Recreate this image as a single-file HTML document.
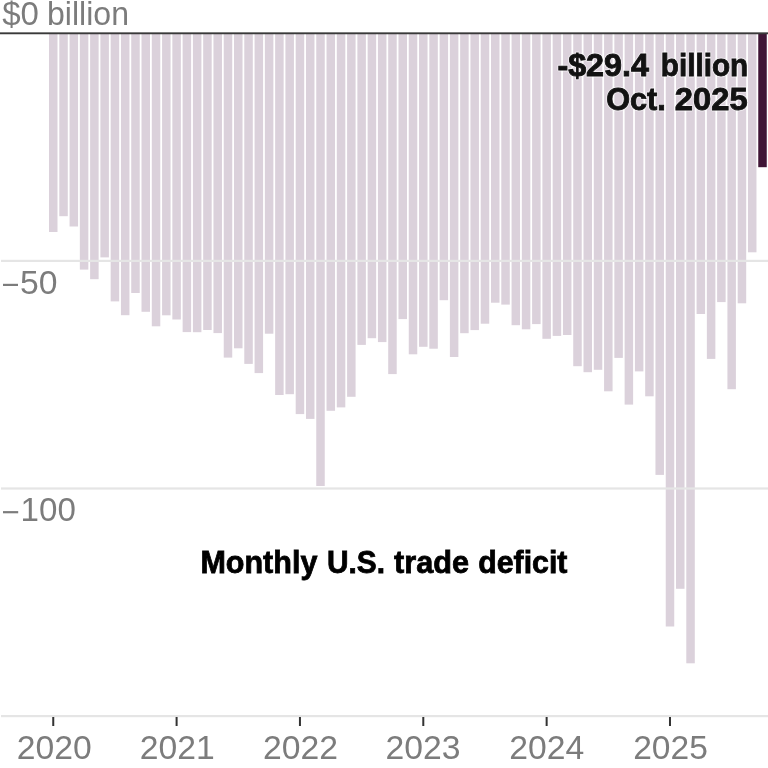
<!DOCTYPE html>
<html><head><meta charset="utf-8">
<style>
html,body{margin:0;padding:0;background:#fff;width:768px;height:768px;overflow:hidden}
svg{display:block;will-change:transform}
text{font-family:"Liberation Sans",sans-serif}
.ax{fill:#7c7c7c;font-size:33px}
.an{fill:#121212;font-size:32px;font-weight:bold;stroke:#121212;stroke-width:0.9px}
.mo{fill:#000;font-size:31.5px;font-weight:bold;stroke:#000;stroke-width:0.8px}
.halo{fill:none;stroke:#fff;stroke-width:2.8px;stroke-opacity:0.55;stroke-linejoin:round}
</style></head><body>
<svg width="768" height="768" viewBox="0 0 768 768">
<g id="bars">
<rect x="49.00" y="33.0" width="8.5" height="199.0" fill="#dbd1db"/>
<rect x="59.28" y="33.0" width="8.5" height="183.2" fill="#dbd1db"/>
<rect x="69.56" y="33.0" width="8.5" height="193.5" fill="#dbd1db"/>
<rect x="79.84" y="33.0" width="8.5" height="236.6" fill="#dbd1db"/>
<rect x="90.12" y="33.0" width="8.5" height="246.2" fill="#dbd1db"/>
<rect x="100.39" y="33.0" width="8.5" height="224.4" fill="#dbd1db"/>
<rect x="110.67" y="33.0" width="8.5" height="268.4" fill="#dbd1db"/>
<rect x="120.95" y="33.0" width="8.5" height="282.2" fill="#dbd1db"/>
<rect x="131.23" y="33.0" width="8.5" height="260.0" fill="#dbd1db"/>
<rect x="141.51" y="33.0" width="8.5" height="278.8" fill="#dbd1db"/>
<rect x="151.79" y="33.0" width="8.5" height="293.3" fill="#dbd1db"/>
<rect x="162.07" y="33.0" width="8.5" height="282.3" fill="#dbd1db"/>
<rect x="172.35" y="33.0" width="8.5" height="286.5" fill="#dbd1db"/>
<rect x="182.63" y="33.0" width="8.5" height="299.1" fill="#dbd1db"/>
<rect x="192.91" y="33.0" width="8.5" height="299.2" fill="#dbd1db"/>
<rect x="203.19" y="33.0" width="8.5" height="297.0" fill="#dbd1db"/>
<rect x="213.46" y="33.0" width="8.5" height="300.1" fill="#dbd1db"/>
<rect x="223.74" y="33.0" width="8.5" height="324.6" fill="#dbd1db"/>
<rect x="234.02" y="33.0" width="8.5" height="315.3" fill="#dbd1db"/>
<rect x="244.30" y="33.0" width="8.5" height="330.9" fill="#dbd1db"/>
<rect x="254.58" y="33.0" width="8.5" height="340.1" fill="#dbd1db"/>
<rect x="264.86" y="33.0" width="8.5" height="300.7" fill="#dbd1db"/>
<rect x="275.14" y="33.0" width="8.5" height="362.0" fill="#dbd1db"/>
<rect x="285.42" y="33.0" width="8.5" height="361.2" fill="#dbd1db"/>
<rect x="295.70" y="33.0" width="8.5" height="381.1" fill="#dbd1db"/>
<rect x="305.98" y="33.0" width="8.5" height="385.9" fill="#dbd1db"/>
<rect x="316.25" y="33.0" width="8.5" height="453.0" fill="#dbd1db"/>
<rect x="326.53" y="33.0" width="8.5" height="377.8" fill="#dbd1db"/>
<rect x="336.81" y="33.0" width="8.5" height="374.4" fill="#dbd1db"/>
<rect x="347.09" y="33.0" width="8.5" height="363.8" fill="#dbd1db"/>
<rect x="357.37" y="33.0" width="8.5" height="311.9" fill="#dbd1db"/>
<rect x="367.65" y="33.0" width="8.5" height="305.2" fill="#dbd1db"/>
<rect x="377.93" y="33.0" width="8.5" height="309.1" fill="#dbd1db"/>
<rect x="388.21" y="33.0" width="8.5" height="341.1" fill="#dbd1db"/>
<rect x="398.49" y="33.0" width="8.5" height="286.1" fill="#dbd1db"/>
<rect x="408.76" y="33.0" width="8.5" height="321.3" fill="#dbd1db"/>
<rect x="419.04" y="33.0" width="8.5" height="313.8" fill="#dbd1db"/>
<rect x="429.32" y="33.0" width="8.5" height="315.7" fill="#dbd1db"/>
<rect x="439.60" y="33.0" width="8.5" height="267.2" fill="#dbd1db"/>
<rect x="449.88" y="33.0" width="8.5" height="324.0" fill="#dbd1db"/>
<rect x="460.16" y="33.0" width="8.5" height="300.2" fill="#dbd1db"/>
<rect x="470.44" y="33.0" width="8.5" height="297.1" fill="#dbd1db"/>
<rect x="480.72" y="33.0" width="8.5" height="290.7" fill="#dbd1db"/>
<rect x="491.00" y="33.0" width="8.5" height="269.7" fill="#dbd1db"/>
<rect x="501.28" y="33.0" width="8.5" height="271.6" fill="#dbd1db"/>
<rect x="511.56" y="33.0" width="8.5" height="292.2" fill="#dbd1db"/>
<rect x="521.83" y="33.0" width="8.5" height="296.3" fill="#dbd1db"/>
<rect x="532.11" y="33.0" width="8.5" height="291.1" fill="#dbd1db"/>
<rect x="542.39" y="33.0" width="8.5" height="305.8" fill="#dbd1db"/>
<rect x="552.67" y="33.0" width="8.5" height="302.9" fill="#dbd1db"/>
<rect x="562.95" y="33.0" width="8.5" height="302.0" fill="#dbd1db"/>
<rect x="573.23" y="33.0" width="8.5" height="333.2" fill="#dbd1db"/>
<rect x="583.51" y="33.0" width="8.5" height="339.2" fill="#dbd1db"/>
<rect x="593.79" y="33.0" width="8.5" height="336.8" fill="#dbd1db"/>
<rect x="604.07" y="33.0" width="8.5" height="358.3" fill="#dbd1db"/>
<rect x="614.35" y="33.0" width="8.5" height="324.9" fill="#dbd1db"/>
<rect x="624.62" y="33.0" width="8.5" height="371.6" fill="#dbd1db"/>
<rect x="634.90" y="33.0" width="8.5" height="338.4" fill="#dbd1db"/>
<rect x="645.18" y="33.0" width="8.5" height="363.3" fill="#dbd1db"/>
<rect x="655.46" y="33.0" width="8.5" height="441.9" fill="#dbd1db"/>
<rect x="665.74" y="33.0" width="8.5" height="593.5" fill="#dbd1db"/>
<rect x="676.02" y="33.0" width="8.5" height="555.8" fill="#dbd1db"/>
<rect x="686.30" y="33.0" width="8.5" height="630.3" fill="#dbd1db"/>
<rect x="696.58" y="33.0" width="8.5" height="281.0" fill="#dbd1db"/>
<rect x="706.86" y="33.0" width="8.5" height="325.9" fill="#dbd1db"/>
<rect x="717.13" y="33.0" width="8.5" height="269.1" fill="#dbd1db"/>
<rect x="727.41" y="33.0" width="8.5" height="356.2" fill="#dbd1db"/>
<rect x="737.69" y="33.0" width="8.5" height="270.3" fill="#dbd1db"/>
<rect x="747.97" y="33.0" width="8.5" height="219.3" fill="#dbd1db"/>
<rect x="758.25" y="33.0" width="8.5" height="134.2" fill="#401536"/>
</g>
<g id="grid">
<rect x="1" y="259.8" width="767" height="2.2" fill="#e5e5e5"/>
<rect x="1" y="487.4" width="767" height="2.2" fill="#e5e5e5"/>
<rect x="1" y="715.0" width="767" height="2.2" fill="#e5e5e5"/>
<rect x="0" y="32.35" width="768" height="1.9" fill="#3a3a3a"/>
<rect x="52.25" y="717" width="2" height="9" fill="#333"/>
<rect x="175.60" y="717" width="2" height="9" fill="#333"/>
<rect x="298.95" y="717" width="2" height="9" fill="#333"/>
<rect x="422.29" y="717" width="2" height="9" fill="#333"/>
<rect x="545.64" y="717" width="2" height="9" fill="#333"/>
<rect x="668.99" y="717" width="2" height="9" fill="#333"/>
</g>
<g id="minus">
<rect x="3" y="283.8" width="15" height="2.2" fill="#7c7c7c"/>
<rect x="3" y="511.1" width="15.2" height="2.2" fill="#7c7c7c"/>
</g>
<text id="t0" class="ax" x="2.20" y="25.00" textLength="36.72" lengthAdjust="spacingAndGlyphs">$0</text>
<text id="t1" class="ax" x="47.00" y="25.00" textLength="81.99" lengthAdjust="spacingAndGlyphs">billion</text>
<text id="t2" class="ax" x="20.00" y="294.00" textLength="37.52" lengthAdjust="spacingAndGlyphs">50</text>
<text id="t3" class="ax" x="20.60" y="521.00" textLength="55.26" lengthAdjust="spacingAndGlyphs">100</text>
<text id="y0" class="ax" x="16.80" y="758.50" textLength="75.02" lengthAdjust="spacingAndGlyphs">2020</text>
<text id="y1" class="ax" x="139.80" y="758.50" textLength="75.02" lengthAdjust="spacingAndGlyphs">2021</text>
<text id="y2" class="ax" x="263.00" y="758.50" textLength="75.02" lengthAdjust="spacingAndGlyphs">2022</text>
<text id="y3" class="ax" x="385.60" y="758.50" textLength="75.02" lengthAdjust="spacingAndGlyphs">2023</text>
<text id="y4" class="ax" x="509.20" y="758.50" textLength="75.02" lengthAdjust="spacingAndGlyphs">2024</text>
<text id="y5" class="ax" x="633.20" y="758.50" textLength="74.62" lengthAdjust="spacingAndGlyphs">2025</text>
<text id="ha0" class="an halo" x="557.40" y="76.00" textLength="91.54" lengthAdjust="spacingAndGlyphs">-$29.4</text>
<text id="a0" class="an" x="557.40" y="76.00" textLength="91.54" lengthAdjust="spacingAndGlyphs">-$29.4</text>
<text id="ha1" class="an halo" x="660.80" y="76.00" textLength="87.40" lengthAdjust="spacingAndGlyphs">billion</text>
<text id="a1" class="an" x="660.80" y="76.00" textLength="87.40" lengthAdjust="spacingAndGlyphs">billion</text>
<text id="ha2" class="an halo" x="606.20" y="110.00" textLength="59.63" lengthAdjust="spacingAndGlyphs">Oct.</text>
<text id="a2" class="an" x="606.20" y="110.00" textLength="59.63" lengthAdjust="spacingAndGlyphs">Oct.</text>
<text id="ha3" class="an halo" x="674.80" y="110.00" textLength="72.79" lengthAdjust="spacingAndGlyphs">2025</text>
<text id="a3" class="an" x="674.80" y="110.00" textLength="72.79" lengthAdjust="spacingAndGlyphs">2025</text>
<text id="m0" class="mo" x="200.40" y="573.00" textLength="117.01" lengthAdjust="spacingAndGlyphs">Monthly</text>
<text id="m1" class="mo" x="327.00" y="573.00" textLength="58.07" lengthAdjust="spacingAndGlyphs">U.S.</text>
<text id="m2" class="mo" x="394.00" y="573.00" textLength="75.03" lengthAdjust="spacingAndGlyphs">trade</text>
<text id="m3" class="mo" x="478.20" y="573.00" textLength="89.27" lengthAdjust="spacingAndGlyphs">deficit</text>
</svg>
</body></html>
